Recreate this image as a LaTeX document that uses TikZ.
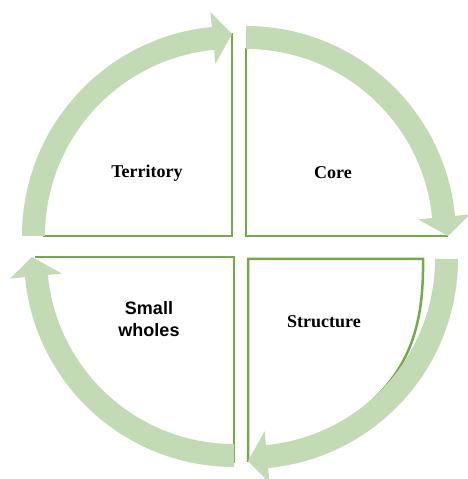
\documentclass[tikz,border=0pt]{standalone}
\usepackage{fontspec}
\setmainfont{Liberation Serif}
\newfontfamily\armfont{Liberation Sans}
\definecolor{arrowgreen}{HTML}{C3DBB5}
\definecolor{linegreen}{HTML}{70AD47}
\newcommand\cycArrow[3]{%
  \fill[cycarrow] ([shift={(#1,#2)}]#3:210) arc[start angle=#3, end angle=#3-84.5, radius=210]
    -- ([shift={(#1,#2)}]#3-84.5:225)
    -- ([shift={(#1,#2)}]#3-90:202)
    -- ([shift={(#1,#2)}]#3-84.5:173)
    -- ([shift={(#1,#2)}]#3-84.5:187)
    arc[start angle=#3-84.5, end angle=#3, radius=187] -- cycle;}
\begin{document}
\begin{tikzpicture}[x=1pt,y=1pt,
  quadline/.style={draw=linegreen, line width=2.5pt, line join=miter},
  cycarrow/.style={fill=arrowgreen},
  serlabel/.style={font=\bfseries\fontsize{18}{22}\selectfont, align=center},
  sanlabel/.style={font=\armfont\bfseries\fontsize{18}{22}\selectfont, align=center}]
\useasboundingbox (0,0) rectangle (467,479);
% quadrant outlines
\draw[quadline] (43,243) -- (232,243) -- (232,446);
\draw[quadline] (246,431) -- (246,243) -- (448,243);
\draw[quadline] (248,17) -- (248,220) -- (423,220) .. controls (424,155) and (410,110) .. (365,72);
\draw[quadline] (35,222) -- (234,222) -- (234,16);
% cycle arrows
\cycArrow{232}{243}{180}
\cycArrow{246}{243}{90}
\cycArrow{248}{220}{0}
\cycArrow{234}{222}{270}
% labels
\node[serlabel] (territory) at (147,306) {Territory};
\node[serlabel] (core) at (333,306) {Core};
\node[serlabel] (structure) at (324,157) {Structure};
\node[sanlabel] (smallwholes) at (149,160) {Small\\wholes};
\end{tikzpicture}
\end{document}
